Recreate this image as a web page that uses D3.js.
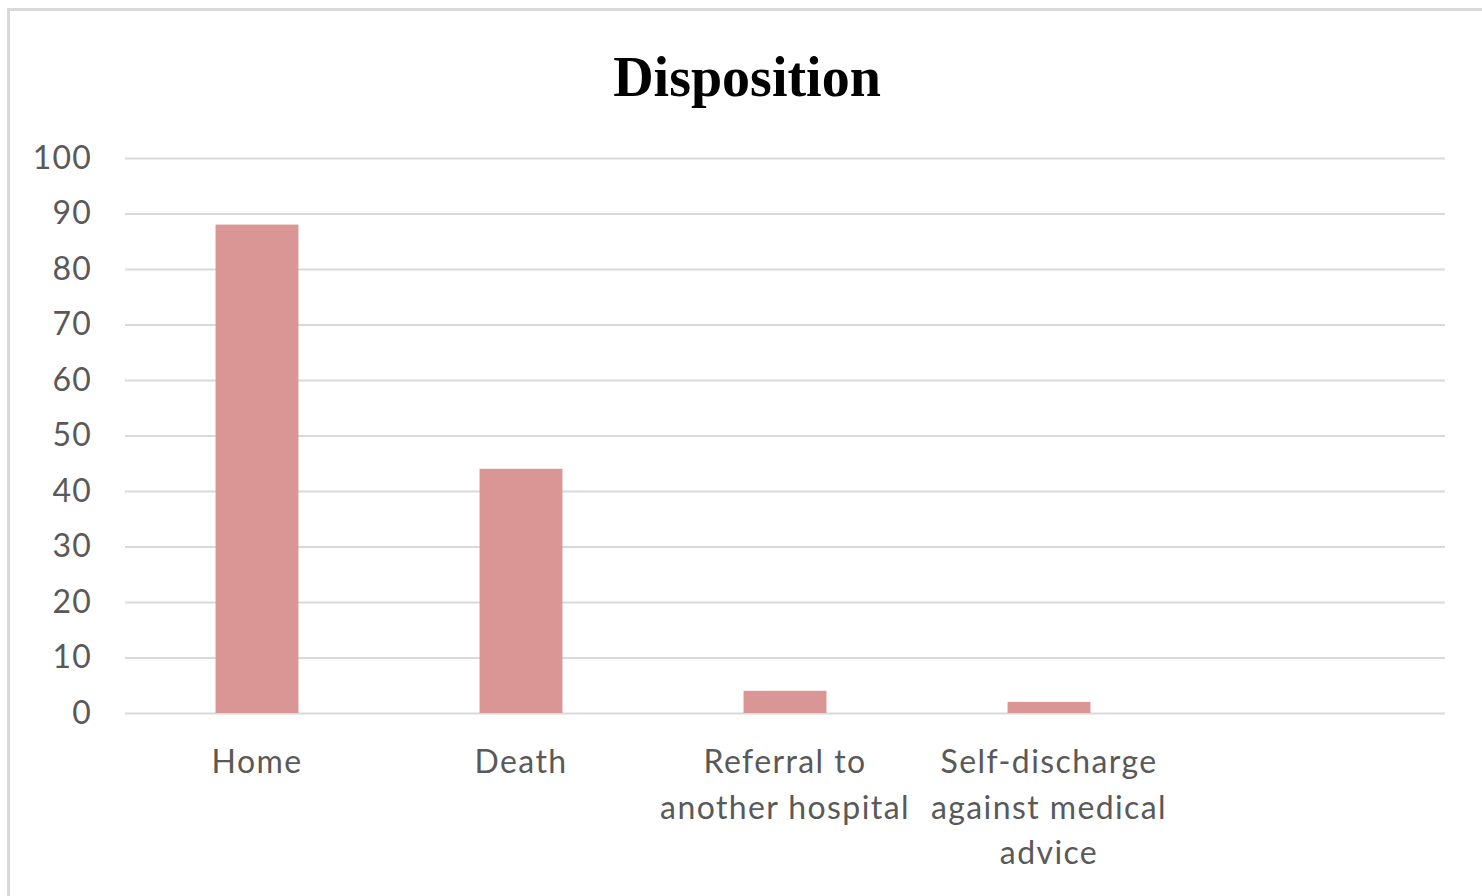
<!DOCTYPE html>
<html><head><meta charset="utf-8">
<script src="https://cdn.jsdelivr.net/npm/d3@7"></script>
<style>html,body{margin:0;padding:0;background:#fff;}</style>
</head><body>
<svg id="chart" width="1482" height="896"></svg>
<script>
const categories = ["Home", "Death", "Referral to another hospital", "Self-discharge against medical advice", ""];
const values = [88, 44, 4, 2, null];
const yTicks = [0, 10, 20, 30, 40, 50, 60, 70, 80, 90, 100];
const title = "Disposition";

const svg = d3.select("#chart");
svg.append("rect").attr("x", 8.5).attr("y", 9.5).attr("width", 1490).attr("height", 900)
  .attr("fill", "#fff").attr("stroke", "#d9d9d9").attr("stroke-width", 3);

const x = d3.scaleBand().domain(categories).range([125, 1445]).paddingInner(0.686).paddingOuter(0.343);
const y = d3.scaleLinear().domain([0, 100]).range([713, 158]);

svg.append("text").attr("x", 747).attr("y", 96).attr("text-anchor", "middle")
  .attr("font-family", "Liberation Serif, Times New Roman, serif").attr("font-weight", "bold")
  .attr("font-size", 56).attr("fill", "#000").text(title);

// grid
const yAxis = d3.axisLeft(y).tickValues(yTicks).tickSize(-(1445 - 125)).tickPadding(33);
const gy = svg.append("g").attr("transform", "translate(125,0)").call(yAxis);
gy.select(".domain").remove();
gy.selectAll(".tick line").attr("stroke", "#d9d9d9").attr("stroke-width", 2);
gy.selectAll(".tick text").attr("font-family", "Lato, sans-serif").attr("font-size", 32)
  .attr("letter-spacing", 1.2).attr("fill", "#595959");

// bars
svg.append("g").selectAll("rect").data(categories.map((c, i) => ({c, v: values[i]})).filter(d => d.v != null))
  .join("rect")
  .attr("x", d => x(d.c)).attr("width", x.bandwidth())
  .attr("y", d => y(d.v)).attr("height", d => y(0) - y(d.v))
  .attr("fill", "#d99694");

// x axis labels
const xAxis = d3.axisBottom(x).tickSize(0).tickPadding(0);
const gx = svg.append("g").attr("transform", "translate(0,713)").call(xAxis);
gx.select(".domain").remove();
gx.selectAll(".tick text").attr("font-family", "Lato, sans-serif").attr("font-size", 32)
  .attr("letter-spacing", 1.4).attr("fill", "#595959")
  .attr("y", 0).attr("dy", null).call(wrap, x.step() * 0.97);

function wrap(texts, width) {
  texts.each(function() {
    const t = d3.select(this);
    const words = t.text().split(/\s+/).filter(w => w);
    t.text(null);
    let line = [], lineNo = 0;
    let ts = t.append("tspan").attr("x", 0).attr("y", 60);
    for (const w of words) {
      line.push(w);
      ts.text(line.join(" "));
      if (ts.node().getComputedTextLength() > width && line.length > 1) {
        line.pop(); ts.text(line.join(" "));
        line = [w]; lineNo++;
        ts = t.append("tspan").attr("x", 0).attr("y", 60 + lineNo * 45.5).text(w);
      }
    }
  });
}
</script>
</body></html>
